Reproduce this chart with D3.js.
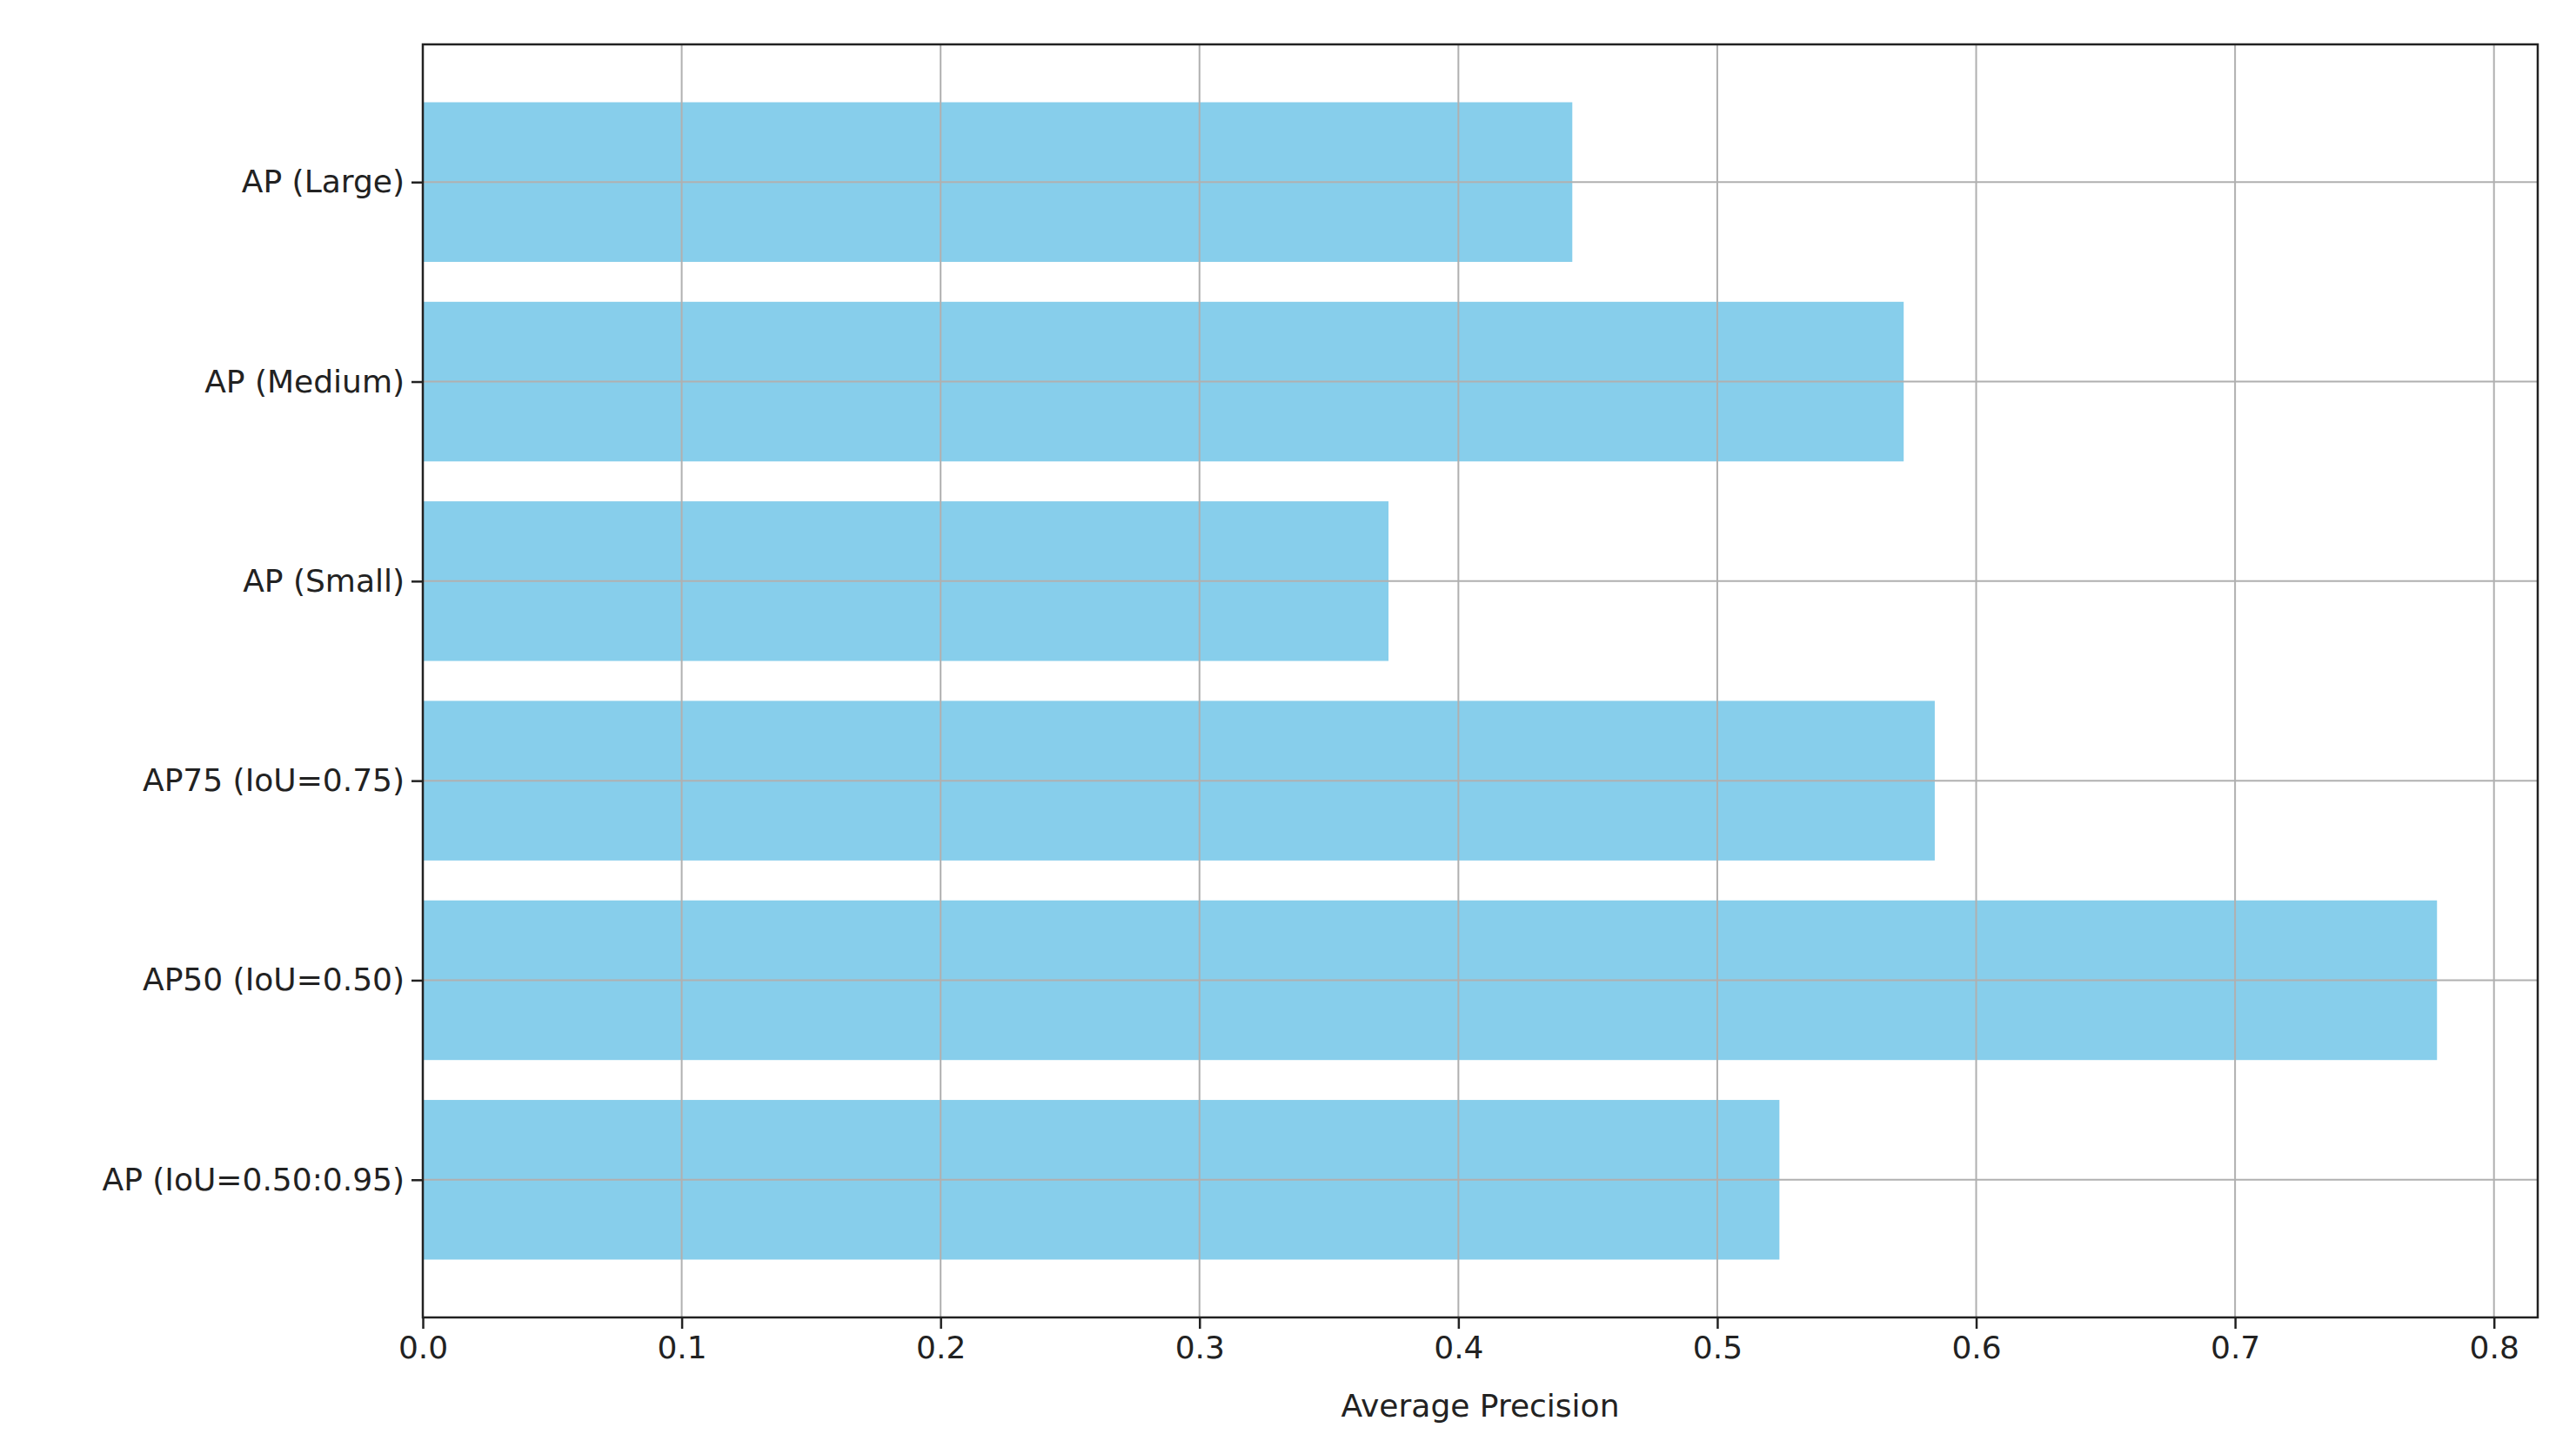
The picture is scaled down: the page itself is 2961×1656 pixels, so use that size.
<!DOCTYPE html><html><head><meta charset="utf-8"><script src="https://cdn.jsdelivr.net/npm/d3@7"></script>
<style>body{margin:0;background:#fff}text{font-family:"DejaVu Sans";fill:#222}</style></head><body>
<svg id="c" width="2961" height="1656"></svg>
<script>
const categories=["AP (IoU=0.50:0.95)","AP50 (IoU=0.50)","AP75 (IoU=0.75)","AP (Small)","AP (Medium)","AP (Large)"];
const values=[0.524,0.778,0.584,0.373,0.572,0.444];
const xTicks=[0,0.1,0.2,0.3,0.4,0.5,0.6,0.7,0.8];
const xLabel="Average Precision";
const W=2961,H=1656,L=486,R=2917,T=51,B=1514;
const svg=d3.select("#c");
const x=d3.scaleLinear().domain([0,0.8169]).range([L,R]);
const y=d3.scaleLinear().domain([-0.69,5.69]).range([B,T]);
const fs=36;
svg.append("g").selectAll("rect").data(values).join("rect")
 .attr("x",x(0)).attr("y",(d,i)=>y(i+0.4)).attr("width",d=>x(d)-x(0)).attr("height",(d,i)=>y(i-0.4)-y(i+0.4)).attr("fill","#87CEEB");
const g=svg.append("g").attr("stroke","#b0b0b0").attr("stroke-width",2);
xTicks.forEach(t=>g.append("line").attr("x1",x(t)).attr("x2",x(t)).attr("y1",T).attr("y2",B));
categories.forEach((c,i)=>g.append("line").attr("x1",L).attr("x2",R).attr("y1",y(i)).attr("y2",y(i)));
const xa=d3.axisBottom(x).tickValues(xTicks).tickFormat(d3.format(".1f")).tickSize(13).tickPadding(8);
svg.append("g").attr("transform",`translate(0,${B})`).call(xa).call(a=>{a.select(".domain").remove();a.selectAll("line").attr("stroke","#222").attr("stroke-width",2.5);a.selectAll("text").attr("font-size",fs).attr("font-family","DejaVu Sans").attr("fill","#222");});
const ya=d3.axisLeft(y).tickValues(d3.range(categories.length)).tickFormat(i=>categories[i]).tickSize(13).tickPadding(8);
svg.append("g").attr("transform",`translate(${L},0)`).call(ya).call(a=>{a.select(".domain").remove();a.selectAll("line").attr("stroke","#222").attr("stroke-width",2.5);a.selectAll("text").attr("font-size",fs).attr("font-family","DejaVu Sans").attr("fill","#222");});
svg.append("rect").attr("x",L).attr("y",T).attr("width",R-L).attr("height",B-T).attr("fill","none").attr("stroke","#222").attr("stroke-width",2.5);
svg.append("text").attr("x",(L+R)/2).attr("y",1628).attr("text-anchor","middle").attr("font-size",fs).text(xLabel);
</script></body></html>
